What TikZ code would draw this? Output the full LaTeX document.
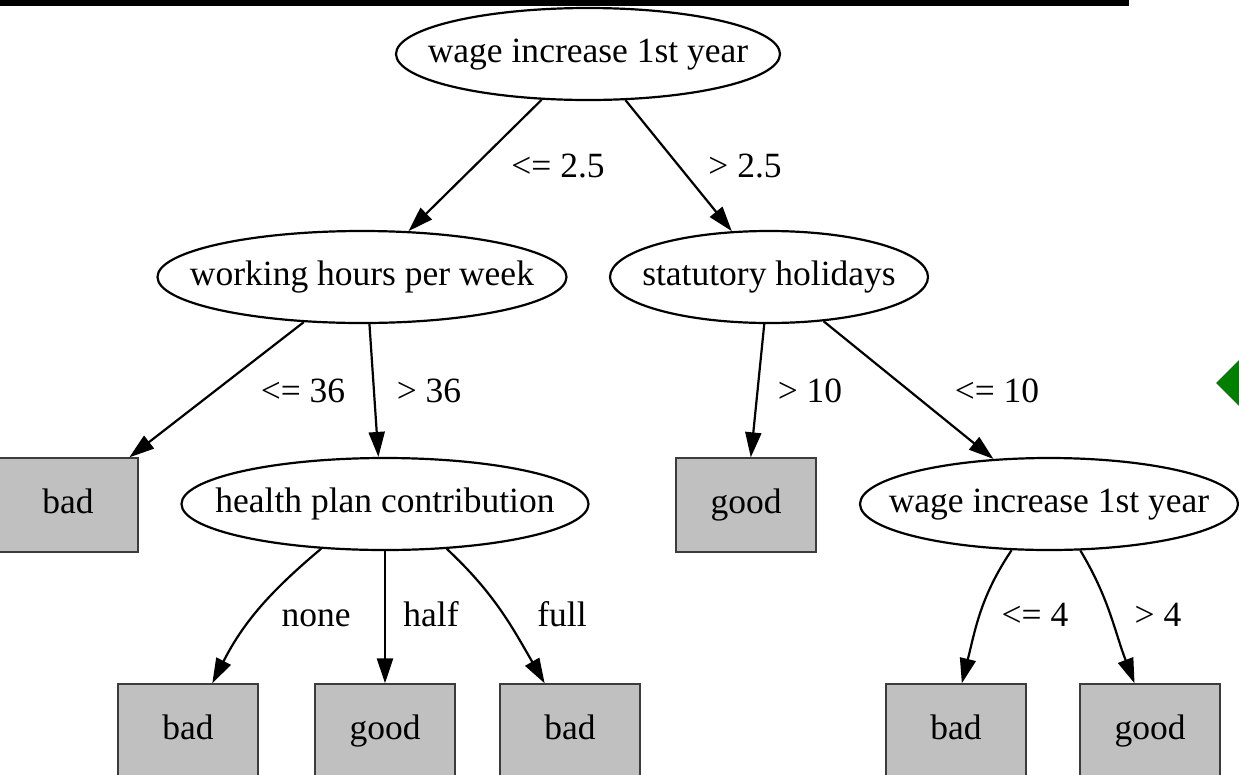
\documentclass[tikz,border=0pt]{standalone}
\usepackage{fontspec}
\setmainfont{Liberation Serif}
\usetikzlibrary{shapes.geometric,arrows.meta}
\definecolor{leafgray}{RGB}{192,192,192}
\definecolor{leafedge}{RGB}{60,60,60}
\definecolor{markgreen}{RGB}{0,128,0}
\newcommand{\zb}[1]{\makebox[0pt]{#1}}
\begin{document}
\begin{tikzpicture}[x=1pt,y=1pt,
  every node/.style={font=\fontsize{35.5}{40}\selectfont},
  split/.style={ellipse, draw, line width=2.2pt, inner sep=0pt, minimum height=92pt, text height=25pt, text depth=9pt},
  leaf/.style={rectangle, draw=leafedge, line width=1.3pt, fill=leafgray, minimum width=140pt, minimum height=94pt, inner sep=0pt, text height=25pt, text depth=9pt},
  conn/.style={draw, line width=2.2pt, -{Triangle[length=25pt,width=16pt]}},
  lbl/.style={anchor=base, inner sep=0pt}]
\useasboundingbox (0,0) rectangle (1239,-774);
\clip (0,0) rectangle (1239,-774);
\fill[black] (0,0) rectangle (1129,-6);
\fill[markgreen] (1216,-383) -- (1241,-358) -- (1266,-383) -- (1241,-408) -- cycle;
% nodes
\node[split, minimum width=384pt] (n0) at (588,-54) {\zb{wage increase 1st year}};
\node[split, minimum width=409pt] (n1) at (362,-277) {\zb{working hours per week}};
\node[split, minimum width=318pt] (n2) at (769,-277) {\zb{statutory holidays}};
\node[leaf] (l1) at (68,-505) {bad};
\node[split, minimum width=407pt] (n3) at (385,-504) {\zb{health plan contribution}};
\node[leaf] (l2) at (746,-505) {good};
\node[split, minimum width=378pt] (n4) at (1049,-504) {\zb{wage increase 1st year}};
\node[leaf] (l3) at (188,-731) {bad};
\node[leaf] (l4) at (385,-731) {good};
\node[leaf] (l5) at (570,-731) {bad};
\node[leaf] (l6) at (956,-731) {bad};
\node[leaf] (l7) at (1150,-731) {good};
% edges
\draw[conn] (n0) -- (n1);
\draw[conn] (n0) -- (n2);
\draw[conn] (n1) -- (l1);
\draw[conn] (n1.-81) -- (n3.98);
\draw[conn] (n2) -- (l2);
\draw[conn] (n2) -- (n4);
\draw[conn] (n3.215) to[out=-140,in=63] (l3.63);
\draw[conn] (n3) -- (l4);
\draw[conn] (n3.-36) to[out=-43,in=120] (l5.118);
\draw[conn] (n4.231) to[out=-124,in=76] (l6.83);
\draw[conn] (n4.-56) to[out=-59,in=111] (l7.108);
% labels
\node[lbl] (e1) at (558,-177) {<= 2.5};
\node[lbl] (e2) at (745,-177) {> 2.5};
\node[lbl] (e3) at (303,-402) {<= 36};
\node[lbl] (e4) at (429,-402) {> 36};
\node[lbl] (e5) at (810,-402) {> 10};
\node[lbl] (e6) at (997,-402) {<= 10};
\node[lbl] (e7) at (316,-626) {none};
\node[lbl] (e8) at (431,-626) {half};
\node[lbl] (e9) at (562,-626) {full};
\node[lbl] (e10) at (1035,-626) {<= 4};
\node[lbl] (e11) at (1158,-626) {> 4};
\end{tikzpicture}
\end{document}
